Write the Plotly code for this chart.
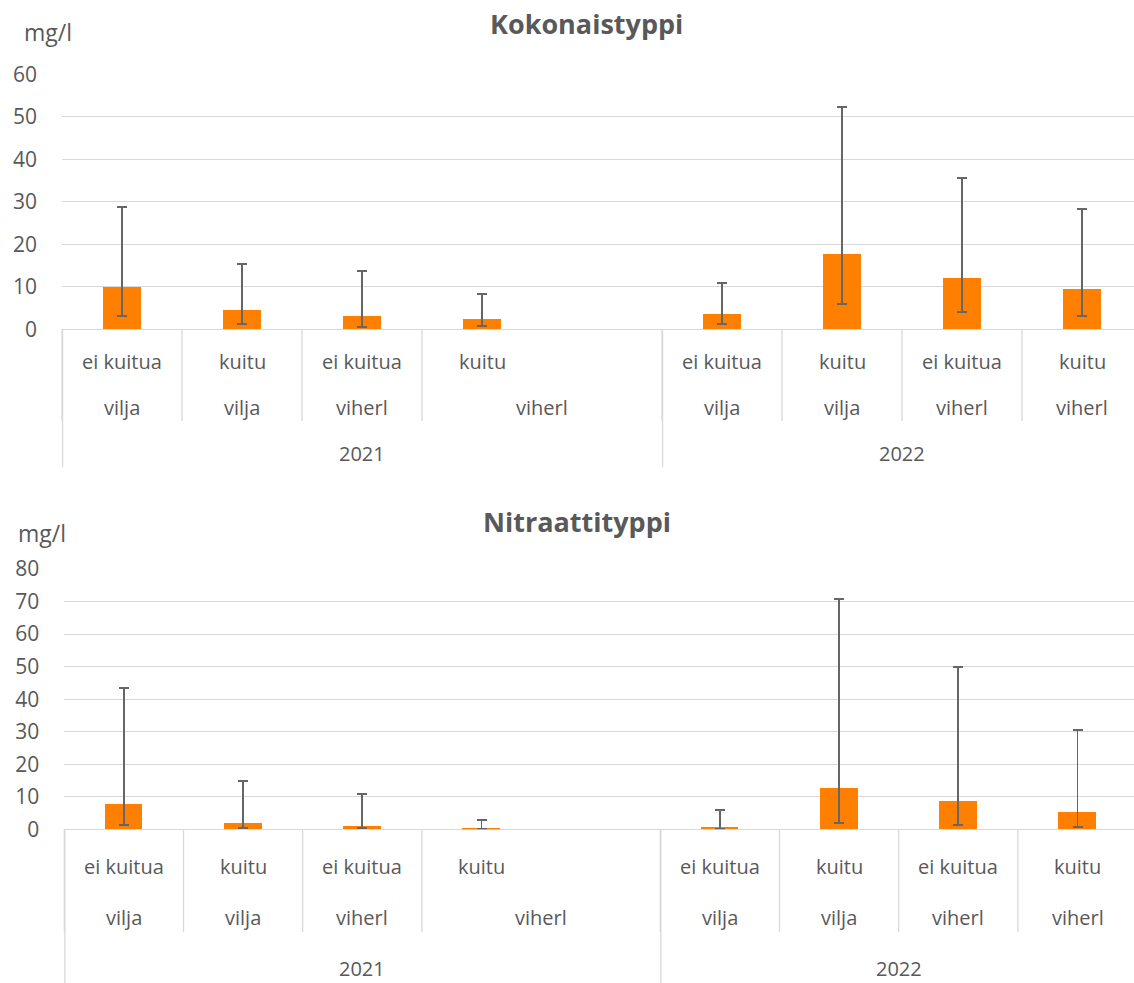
import plotly.graph_objects as go

# ---------------- data ----------------
fiber = ["ei kuitua", "kuitu", "ei kuitua", "kuitu", "", "ei kuitua", "kuitu", "ei kuitua", "kuitu"]
crop = ["vilja", "vilja", "viherl", "viherl", "", "vilja", "vilja", "viherl", "viherl"]
year = ["2021", "", "", "", "", "2022", "", "", ""]

tot_mean = [9.9, 4.5, 3.1, 2.35, None, 3.6, 17.7, 12.0, 9.4]
tot_max = [28.8, 15.4, 13.7, 8.4, None, 10.8, 52.4, 35.7, 28.3]
tot_min = [3.2, 1.3, 0.6, 0.8, None, 1.25, 6.0, 4.1, 3.1]

no3_mean = [7.7, 1.9, 0.9, 0.3, None, 0.7, 12.6, 8.8, 5.3]
no3_max = [43.5, 14.9, 10.8, 2.8, None, 5.8, 70.8, 50.0, 30.6]
no3_min = [1.2, 0.3, 0.3, 0.0, None, 0.2, 2.0, 1.4, 0.8]

titles = ["Kokonaistyppi", "Nitraattityppi"]
unit = "mg/l"

# ---------------- layout constants ----------------
W, H = 1134, 983
FONT = "Open Sans"
TXT = "#595959"
GRID = "#D9D9D9"
BAR = "#FF8000"

def py(p):
    return 1 - p / H

panels = [
    dict(mean=tot_mean, mx=tot_max, mn=tot_min, title=titles[0], ymax=60,
         left=62, slot=120, top=74.3, bottom=329.3,
         rows=(361, 407, 453), short_end=421, long_end=467,
         title_xy=(586, 24), unit_xy=(22, 32)),
    dict(mean=no3_mean, mx=no3_max, mn=no3_min, title=titles[1], ymax=80,
         left=64.3, slot=119.2, top=569, bottom=829.3,
         rows=(866, 917, 968), short_end=932, long_end=983,
         title_xy=(577, 521), unit_xy=(16, 533)),
]

def groups(labels):
    out = []
    for i, lab in enumerate(labels):
        if lab != "" or not out:
            out.append([lab, i, i])
        else:
            out[-1][2] = i
    return out

fig = go.Figure()
annotations = []
shapes = []
xs = list(range(len(fiber)))

for k, p in enumerate(panels):
    n = "" if k == 0 else str(k + 1)
    xa, ya = "x" + n, "y" + n
    up = [(a - m) if (a is not None and m is not None) else None for a, m in zip(p["mx"], p["mean"])]
    dn = [(m - b) if (b is not None and m is not None) else None for b, m in zip(p["mn"], p["mean"])]
    fig.add_trace(go.Bar(
        x=xs, y=p["mean"], xaxis=xa, yaxis=ya, width=0.314,
        marker=dict(color=BAR, line=dict(width=0)),
        error_y=dict(type="data", symmetric=False, array=up, arrayminus=dn,
                     color="#666666", thickness=1.9, width=5),
        showlegend=False, hoverinfo="y",
    ))
    x0 = p["left"] / W
    r0 = -0.5
    r1 = -0.5 + (W - p["left"]) / p["slot"]
    fig.layout["xaxis" + n] = dict(domain=[x0, 1], range=[r0, r1], anchor=ya,
                                    showticklabels=False, showgrid=False, automargin=False,
                                    zeroline=False, showline=False, fixedrange=True)
    fig.layout["yaxis" + n] = dict(domain=[py(p["bottom"]), py(p["top"])], anchor=xa,
                                    range=[0, p["ymax"]], dtick=10, tick0=0, automargin=False,
                                    showgrid=True, gridcolor=GRID, gridwidth=1.3,
                                    zeroline=True, zerolinecolor=GRID, zerolinewidth=1.3,
                                    showline=False, ticks="", ticklabelstandoff=24,
                                    tickfont=dict(family=FONT, size=21, color=TXT),
                                    fixedrange=True)

    def xp(v):
        return x0 + (v - r0) / (r1 - r0) * (1 - x0)

    r_fib, r_crop, r_year = p["rows"]
    lab_font = dict(family=FONT, size=20, color=TXT)
    for i, lab in enumerate(fiber):
        if lab:
            annotations.append(dict(x=i, y=py(r_fib), xref=xa, yref="paper", text=lab,
                                    showarrow=False, font=lab_font, xanchor="center", yanchor="middle"))
    for lab, s, e in groups(crop):
        annotations.append(dict(x=(s + e) / 2, y=py(r_crop), xref=xa, yref="paper", text=lab,
                                showarrow=False, font=lab_font, xanchor="center", yanchor="middle"))
        shapes.append(dict(type="line", xref="paper", yref="paper",
                           x0=xp(s - 0.5), x1=xp(s - 0.5), y0=py(p["bottom"]), y1=py(p["short_end"]),
                           line=dict(color=GRID, width=1.3)))
    for lab, s, e in groups(year):
        annotations.append(dict(x=(s + e) / 2, y=py(r_year), xref=xa, yref="paper", text=lab,
                                showarrow=False, font=lab_font, xanchor="center", yanchor="middle"))
        shapes.append(dict(type="line", xref="paper", yref="paper",
                           x0=xp(s - 0.5) + 0.0005, x1=xp(s - 0.5) + 0.0005,
                           y0=py(p["bottom"]), y1=py(p["long_end"]),
                           line=dict(color=GRID, width=1.3)))

    tx, ty = p["title_xy"]
    annotations.append(dict(x=tx / W, y=py(ty), xref="paper", yref="paper",
                            text="<b>" + p["title"] + "</b>", showarrow=False,
                            font=dict(family=FONT, size=27, color=TXT),
                            xanchor="center", yanchor="middle"))
    ux, uy = p["unit_xy"]
    annotations.append(dict(x=ux / W, y=py(uy), xref="paper", yref="paper",
                            text=unit, showarrow=False,
                            font=dict(family=FONT, size=23, color=TXT),
                            xanchor="left", yanchor="middle"))

fig.update_layout(width=W, height=H, margin=dict(l=0, r=0, t=0, b=0, autoexpand=False),
                  paper_bgcolor="white", plot_bgcolor="white",
                  annotations=annotations, shapes=shapes, bargap=0)

fig.write_html("out.html", config={"displayModeBar": False},
               post_script="document.body.style.margin='0';document.body.style.overflow='hidden';")
